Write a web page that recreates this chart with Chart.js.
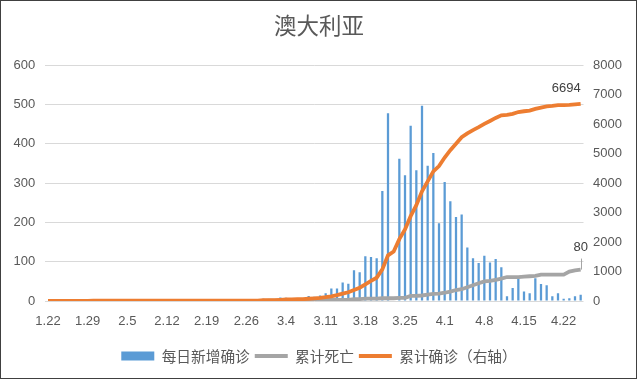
<!DOCTYPE html>
<html><head><meta charset="utf-8">
<script src="https://cdn.jsdelivr.net/npm/chart.js@4.4.1/dist/chart.umd.min.js"></script>
<style>html,body{margin:0;padding:0;background:#fff;}#wrap{width:638px;height:380px;}</style>
</head><body><div id="wrap"><canvas id="c" width="638" height="380"></canvas></div>
<script>
const dates = ['1.22','1.23','1.24','1.25','1.26','1.27','1.28','1.29','1.30','1.31',
'2.1','2.2','2.3','2.4','2.5','2.6','2.7','2.8','2.9','2.10','2.11','2.12','2.13','2.14','2.15','2.16','2.17','2.18','2.19','2.20','2.21','2.22','2.23','2.24','2.25','2.26','2.27','2.28','2.29',
'3.1','3.2','3.3','3.4','3.5','3.6','3.7','3.8','3.9','3.10','3.11','3.12','3.13','3.14','3.15','3.16','3.17','3.18','3.19','3.20','3.21','3.22','3.23','3.24','3.25','3.26','3.27','3.28','3.29','3.30','3.31',
'4.1','4.2','4.3','4.4','4.5','4.6','4.7','4.8','4.9','4.10','4.11','4.12','4.13','4.14','4.15','4.16','4.17','4.18','4.19','4.20','4.21','4.22','4.23','4.24','4.25'];

const dailyNew = [0,0,0,4,0,1,0,1,3,0,
3,0,0,1,0,1,1,0,0,0,0,0,0,0,0,0,0,0,0,0,0,0,0,0,0,0,0,0,6,
2,3,9,8,3,5,3,13,11,14,20,32,32,47,44,78,73,114,112,109,280,478,0,362,320,446,333,497,344,377,198,
303,254,214,220,136,109,97,115,98,107,86,12,33,58,24,20,58,43,40,12,20,6,7,12,16];

const cumDeaths = [0,0,0,0,0,0,0,0,0,0,
0,0,0,0,0,0,0,0,0,0,0,0,0,0,0,0,0,0,0,0,0,0,0,0,0,0,0,0,0,
1,1,1,2,2,2,2,3,3,3,3,3,3,3,3,5,5,6,6,6,7,7,7,8,8,13,13,14,16,18,19,
21,24,28,30,35,40,45,50,51,54,57,61,61,61,62,63,64,67,67,67,67,67,75,78,80];

const cumConfirmed = [0,0,0,4,4,5,5,6,9,9,
12,12,12,13,13,14,15,15,15,15,15,15,15,15,15,15,15,15,15,15,15,15,15,15,15,15,15,15,25,
27,30,39,52,55,60,63,76,91,107,128,160,200,250,297,377,452,568,681,791,1071,1549,1682,2100,2430,2880,3250,3720,4060,4400,4580,
4870,5120,5340,5560,5690,5800,5900,6010,6110,6215,6300,6315,6350,6415,6440,6460,6520,6565,6605,6620,6645,6650,6660,6675,6694];

const seriesNames = ['每日新增确诊','累计死亡','累计确诊（右轴）'];
const chartTitle = '澳大利亚';
const leftMax = 600, leftStep = 100;
const rightMax = 8000, rightStep = 1000;

const TXT = '#595959';
const tickFont = {family:'"Liberation Sans", sans-serif', size:13};

const decor = {
  id:'decor',
  afterDatasetsDraw(chart){
    const ctx = chart.ctx;
    const mC = chart.getDatasetMeta(2), mD = chart.getDatasetMeta(1);
    const pC = mC.data[mC.data.length-1], pD = mD.data[mD.data.length-1];
    ctx.save();
    ctx.font = '13px "Liberation Sans", sans-serif';
    ctx.fillStyle = '#404040';
    ctx.textBaseline = 'middle';
    ctx.textAlign = 'right';
    ctx.fillText(String(cumConfirmed[cumConfirmed.length-1]), pC.x, pC.y - 15);
    ctx.strokeStyle = '#A5A5A5'; ctx.lineWidth = 1;
    ctx.beginPath(); ctx.moveTo(Math.round(pD.x)+0.5, pD.y - 11); ctx.lineTo(Math.round(pD.x)+0.5, pD.y); ctx.stroke();
    ctx.textAlign = 'center';
    ctx.fillText(String(cumDeaths[cumDeaths.length-1]), pD.x, pD.y - 22);
    ctx.restore();
  },
  afterDraw(chart){
    const ctx = chart.ctx;
    ctx.save();
    ctx.strokeStyle = '#404040'; ctx.lineWidth = 1;
    ctx.strokeRect(0.5, 0.5, 636, 378);
    ctx.restore();
  }
};

new Chart(document.getElementById('c'), {
  data: {
    labels: dates,
    datasets: [
      {type:'bar', label:seriesNames[0], data:dailyNew, yAxisID:'y', backgroundColor:'#5B9BD5',
       categoryPercentage:1, barPercentage:0.4, order:3},
      {type:'line', label:seriesNames[1], data:cumDeaths, yAxisID:'y', borderColor:'#A5A5A5', backgroundColor:'#A5A5A5',
       borderWidth:3.8, pointRadius:0, tension:0, order:2},
      {type:'line', label:seriesNames[2], data:cumConfirmed, yAxisID:'y1', borderColor:'#ED7D31', backgroundColor:'#ED7D31',
       borderWidth:3.8, pointRadius:0, tension:0, order:1}
    ]
  },
  options: {
    responsive:false, animation:false, devicePixelRatio:1,
    layout:{padding:{left:0,right:0,top:0,bottom:6.65}},
    plugins:{
      tooltip:{enabled:false},
      title:{display:true, text:chartTitle, color:TXT,
        font:{family:'"Noto Sans CJK SC", sans-serif', size:22.5, weight:'normal'},
        padding:{top:12,bottom:26.3}},
      legend:{position:'bottom',
        labels:{usePointStyle:true, pointStyleWidth:33, boxHeight:9, padding:5, color:TXT,
          font:{family:'"Noto Sans CJK SC", sans-serif', size:14.7},
          sort:(a,b)=>a.datasetIndex-b.datasetIndex,
          generateLabels:(chart)=>{
            const items = Chart.defaults.plugins.legend.labels.generateLabels(chart);
            items.forEach(it=>{
              const ds = chart.data.datasets[it.datasetIndex];
              if (ds.type==='line'){ it.pointStyle='line'; it.lineWidth=3.8; it.strokeStyle=ds.borderColor; it.fillStyle=ds.borderColor; }
              else { it.pointStyle='rect'; it.lineWidth=0; it.fillStyle=ds.backgroundColor; it.strokeStyle=ds.backgroundColor; }
            });
            return items;
          }}}
    },
    scales:{
      x:{type:'category', offset:true,
        grid:{display:false}, border:{display:false},
        ticks:{autoSkip:false, maxRotation:0, minRotation:0, color:TXT, font:tickFont, padding:4.7,
          callback:(v,i)=> i%7===0 ? dates[i] : ''},
        afterFit:(s)=>{ s.height = 42.65; }},
      y:{position:'left', min:0, max:leftMax,
        grid:{color:'#D9D9D9', lineWidth:1, drawTicks:false}, border:{display:false},
        ticks:{stepSize:leftStep, color:TXT, font:tickFont, padding:10, callback:(v)=>String(v)},
        afterFit:(s)=>{ s.width = 45.17; }},
      y1:{position:'right', min:0, max:rightMax,
        grid:{display:false, drawTicks:false}, border:{display:false},
        ticks:{stepSize:rightStep, color:TXT, font:tickFont, padding:9.5, callback:(v)=>String(v)},
        afterFit:(s)=>{ s.width = 54.5; }}
    }
  },
  plugins:[decor]
});
</script>
</body></html>
